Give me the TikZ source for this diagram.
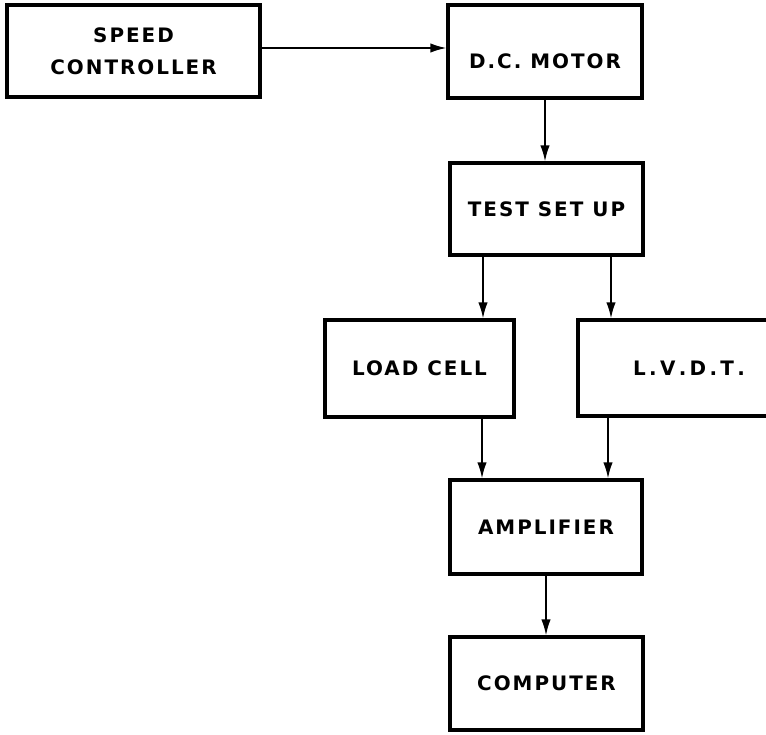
\documentclass[tikz,border=0pt]{standalone}
\usepackage{fontspec}
\setmainfont{DejaVu Sans}[LetterSpace=10]
\usetikzlibrary{arrows.meta}
\begin{document}
\begin{tikzpicture}[x=0.03cm,y=-0.03cm,
  blk/.style={draw, line width=2.6pt, rectangle, inner sep=0pt, align=center,
    font=\bfseries\fontsize{17}{27}\selectfont},
  arr/.style={line width=1.5pt, -{Latex[length=4.8mm,width=2.8mm]}}]
\useasboundingbox (0,0) rectangle (766,734);
\node[blk, minimum width=7.59cm, minimum height=2.76cm] (sc) at (133.5,51) {SPEED\\CONTROLLER};
\node[blk, minimum width=5.82cm, minimum height=2.79cm] (dc) at (545,51.5) {\raisebox{-0.5cm}[0pt][0pt]{D.C. MOTOR}};
\node[blk, minimum width=5.79cm, minimum height=2.76cm] (tsu) at (546.5,209) {TEST SET UP};
\node[blk, minimum width=5.67cm, minimum height=2.91cm] (lc) at (419.5,368.5) {LOAD CELL};
\node[blk, minimum width=6.66cm, minimum height=2.88cm] (lv) at (689,368) {L\,.\,V\,.\,D\,.\,T\,.};
\node[blk, minimum width=5.76cm, minimum height=2.82cm] (amp) at (546,527) {AMPLIFIER};
\node[blk, minimum width=5.79cm, minimum height=2.79cm] (comp) at (546.5,683.5) {COMPUTER};
\draw[arr] ([yshift=0.09cm]sc.east) -- ([yshift=0.09cm]sc.east -| dc.west);
\draw[arr] (dc.south) -- (dc.south |- tsu.north);
\draw[arr] ([xshift=-1.905cm]tsu.south) -- ([xshift=-1.905cm]tsu.south |- lc.north);
\draw[arr] ([xshift=1.935cm]tsu.south) -- ([xshift=1.935cm]tsu.south |- lv.north);
\draw[arr] ([xshift=1.875cm]lc.south) -- ([xshift=1.875cm]lc.south |- amp.north);
\draw[arr] ([xshift=-2.43cm]lv.south) -- ([xshift=-2.43cm]lv.south |- amp.north);
\draw[arr] (amp.south) -- (amp.south |- comp.north);
\end{tikzpicture}
\end{document}
